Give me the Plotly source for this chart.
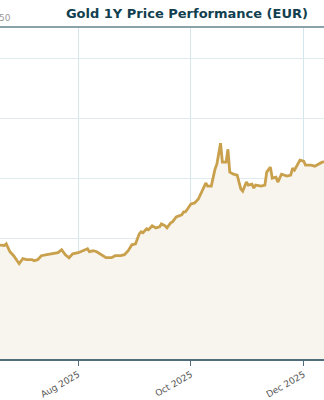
import plotly.graph_objects as go

# Gold price in EUR
dates = [
    "2025-06-16", "2025-06-20", "2025-06-22", "2025-06-23", "2025-06-25", "2025-06-27",
    "2025-06-29", "2025-06-30", "2025-07-02", "2025-07-04", "2025-07-07", "2025-07-08",
    "2025-07-10", "2025-07-12", "2025-07-15", "2025-07-18", "2025-07-21", "2025-07-23",
    "2025-07-25", "2025-07-27", "2025-07-29", "2025-08-01", "2025-08-03", "2025-08-06",
    "2025-08-07", "2025-08-09", "2025-08-11", "2025-08-14", "2025-08-16", "2025-08-19",
    "2025-08-21", "2025-08-24", "2025-08-26", "2025-08-28", "2025-08-30", "2025-09-01",
    "2025-09-03", "2025-09-04", "2025-09-05", "2025-09-07", "2025-09-08", "2025-09-10",
    "2025-09-12", "2025-09-14", "2025-09-15", "2025-09-17", "2025-09-18", "2025-09-20",
    "2025-09-21", "2025-09-23", "2025-09-26", "2025-09-27", "2025-09-28", "2025-10-01",
    "2025-10-03", "2025-10-05", "2025-10-07", "2025-10-09", "2025-10-10", "2025-10-12",
    "2025-10-14", "2025-10-15", "2025-10-17", "2025-10-18", "2025-10-20", "2025-10-21",
    "2025-10-22", "2025-10-24", "2025-10-26", "2025-10-28", "2025-10-29", "2025-10-31",
    "2025-11-01", "2025-11-03", "2025-11-04", "2025-11-05", "2025-11-08", "2025-11-10",
    "2025-11-11", "2025-11-13", "2025-11-14", "2025-11-16", "2025-11-17", "2025-11-19",
    "2025-11-22", "2025-11-24", "2025-11-25", "2025-11-26", "2025-11-29", "2025-12-01",
    "2025-12-02", "2025-12-05", "2025-12-07", "2025-12-09", "2025-12-11", "2025-12-15",
]
prices = [
    2950, 2942, 2942, 2956, 2890, 2857,
    2807, 2790, 2832, 2824, 2824, 2815,
    2824, 2857, 2865, 2873, 2882, 2907,
    2865, 2840, 2873, 2882, 2898, 2915,
    2890, 2898, 2890, 2857, 2840, 2840,
    2857, 2857, 2865, 2898, 2948, 2956,
    3039, 3056, 3048, 3081, 3073, 3106,
    3089, 3098, 3122, 3106, 3089, 3131,
    3139, 3181, 3197, 3222, 3222, 3288,
    3297, 3330, 3396, 3463, 3438, 3438,
    3579, 3620, 3795, 3637, 3637, 3745,
    3554, 3537, 3529, 3413, 3396, 3471,
    3446, 3454, 3421, 3446, 3438, 3446,
    3554, 3596, 3504, 3512, 3471, 3537,
    3521, 3529, 3587, 3571, 3654, 3645,
    3612, 3612, 3604, 3620, 3637, 3650,
]

title_text = "Gold 1Y Price Performance (EUR)"
x_range = ["2025-06-19 15:00", "2025-12-12 00:00"]
y_range = [1995, 4765]

fig = go.Figure()
fig.add_trace(go.Scatter(
    x=dates, y=prices, mode="lines",
    line=dict(color="#c9a04c", width=2.8),
    fill="tozeroy", fillcolor="#f8f5ee",
    hoverinfo="skip", showlegend=False,
))

fig.update_layout(
    width=324, height=400,
    margin=dict(l=0, r=0, t=27, b=39),
    paper_bgcolor="white", plot_bgcolor="white",
    title=dict(text=title_text, x=0.577, xanchor="center", xref="container",
               y=1 - 13 / 400, yanchor="middle", yref="container",
               font=dict(family="DejaVu Sans", size=13, color="#123f50", weight="bold")),
    font=dict(family="DejaVu Sans", size=9, color="#555"),
    xaxis=dict(
        type="date", range=x_range, tick0="2025-08-01", dtick="M2",
        tickformat="%b %Y", tickangle=-30,
        showgrid=True, gridcolor="#d3e6ec", gridwidth=1,
        showline=True, linecolor="#4f6d7a", linewidth=2,
        ticks="outside", ticklen=5, tickcolor="#4f6d7a", tickwidth=1,
        tickfont=dict(family="DejaVu Sans", size=9, color="#555"),
        zeroline=False, fixedrange=True,
    ),
    yaxis=dict(
        range=y_range, dtick=500, tick0=0,
        showgrid=True, gridcolor="#dfebef", gridwidth=1,
        showticklabels=False, zeroline=False, showline=False, fixedrange=True,
    ),
    shapes=[dict(type="line", xref="paper", yref="paper", x0=0, x1=1, y0=1, y1=1,
                 line=dict(color="#8ba2aa", width=2))],
    annotations=[dict(text="50", xref="paper", yref="paper", x=0, y=1, xanchor="left",
                      yanchor="bottom", yshift=2, xshift=-3, showarrow=False,
                      font=dict(family="DejaVu Sans", size=9, color="#999"))],
)

fig.write_html("out.html", config={"displayModeBar": False})
